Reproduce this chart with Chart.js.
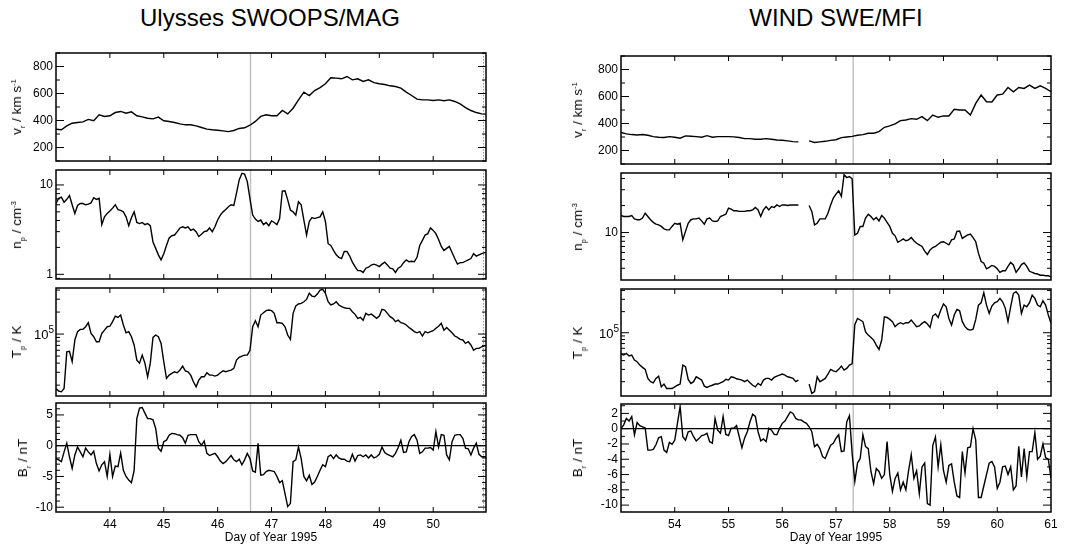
<!DOCTYPE html>
<html>
<head>
<meta charset="utf-8">
<script src="https://cdn.jsdelivr.net/npm/chart.js@4.4.1/dist/chart.umd.min.js"></script>
<style>
  body { margin: 0; background: #fff; font-family: "Liberation Sans", Arial, Helvetica, sans-serif; color: #000; }
  #page { position: relative; width: 1068px; height: 545px; overflow: hidden; }
  .title { position: absolute; top: 6px; font-size: 24px; line-height: 24px; white-space: nowrap; transform: translateX(-50%); }
  .ytitle { position: absolute; font-size: 13.5px; line-height: 14px; white-space: nowrap; transform: translate(-50%, -50%) rotate(-90deg); }
  .ytitle sub, .ytitle sup { font-size: 7.5px; line-height: 0; }
  .panel { position: absolute; }
</style>
</head>
<body>
<div id="page">
  <div class="title" style="left:270px">Ulysses SWOOPS/MAG</div>
  <div class="title" style="left:836px">WIND SWE/MFI</div>
</div>
<script>
// ---------------------------------------------------------------
// sample times (day of year 1995)
// ---------------------------------------------------------------
const dayGrid = (start, step, n) =>
  Array.from({ length: n }, (_, i) => +(start + i * step).toFixed(2));

const ULY_DAYS_V = dayGrid(43, 0.1, 81);
const ULY_DAYS   = dayGrid(43, 0.05, 161);
const WIND_DAYS_V = dayGrid(53, 0.1, 81);
const WIND_DAYS   = dayGrid(53, 0.05, 161);

const ULY_RANGE  = [43.0, 50.98];
const WIND_RANGE = [53.0, 61.0];
const ULY_DAY_TICKS  = [44, 45, 46, 47, 48, 49, 50];
const WIND_DAY_TICKS = [54, 55, 56, 57, 58, 59, 60, 61];
const ULY_EVENT  = 46.61;
const WIND_EVENT = 57.32;

// ---------------------------------------------------------------
// Ulysses SWOOPS / MAG
// ---------------------------------------------------------------
const ULY_V = [
  335,331,360,380,385,390,408,398,442,430,
  435,459,467,454,464,435,427,417,412,425,
  398,393,385,375,368,368,360,348,336,331,
  328,323,318,326,341,346,365,393,430,442,
  435,435,474,449,491,553,610,585,622,644,
  672,716,714,709,726,701,709,689,701,681,
  672,667,657,652,640,610,585,558,553,553,
  548,553,546,553,541,523,496,474,459,449,
  447
];

const ULY_N = [
  6.2,7.1,7.3,6.4,6.9,7.6,6.0,4.8,5.9,6.2, 6.2,6.0,6.1,6.3,7.2,6.9,7.1,3.6,4.4,4.8,
  5.1,5.5,6.0,5.3,5.2,5.0,4.4,3.5,4.3,5.0, 3.8,3.7,3.8,3.6,3.7,3.5,2.3,1.95,1.65,1.45,
  1.7,2.1,2.55,2.7,2.75,3.0,3.3,3.4,3.3,3.4, 3.1,3.2,3.0,2.65,2.8,3.0,3.05,3.3,3.0,3.4,
  4.05,4.6,5.0,5.3,5.7,6.0,5.9,8.1,11.4,13.5, 13.2,10.9,7.0,4.6,4.15,3.9,4.05,3.6,3.8,3.5,
  3.95,3.8,3.6,4.2,8.55,8.6,6.8,5.25,5.0,4.6, 6.5,6.0,4.05,2.75,3.9,4.3,4.2,4.3,4.4,5.0,
  3.9,2.2,2.1,1.85,1.65,1.55,1.5,1.8,1.8,1.6, 1.37,1.22,1.1,1.1,1.05,1.17,1.2,1.27,1.3,1.27,
  1.22,1.3,1.37,1.27,1.17,1.15,1.05,1.17,1.22,1.35, 1.45,1.38,1.4,1.38,1.55,2.1,2.4,2.75,2.85,3.3,
  3.1,2.85,2.45,2.05,1.85,1.95,2.05,1.75,1.5,1.3, 1.35,1.35,1.4,1.45,1.5,1.7,1.6,1.65,1.7,1.75,
  1.75
];

const ULY_T = [
  18000,16600,16200,18000,57000,58000,42000,83000,108000,116000, 116000,126000,143000,102000,92000,78500,78500,102000,113000,126000,
  128000,148000,176000,169000,182000,133000,104000,108000,92000,71000, 44000,40000,51500,40000,26000,40000,90000,97000,92000,74500,
  42000,24700,27400,28900,30500,29500,32100,36500,31400,30500, 27400,22200,19000,23400,26000,26000,29500,27400,27400,26600,
  27400,29500,31400,30500,31400,32100,33900,44000,48000,50000, 51500,51500,60000,126000,152000,126000,182000,196000,209000,213000,
  209000,192000,143000,143000,140000,126000,97000,84500,192000,242000, 258000,263000,277000,298000,361000,331000,325000,353000,400000,409000,
  361000,277000,250000,258000,277000,250000,237000,229000,225000,225000, 202000,186000,164000,169000,155000,192000,182000,188000,176000,164000,
  176000,218000,213000,192000,173000,164000,148000,155000,143000,140000, 133000,123000,116000,108000,104000,108000,94000,108000,104000,108000,
  111000,120000,128000,140000,113000,123000,113000,104000,94000,90000, 84500,83000,74500,78500,71000,60000,63600,63600,67000,69000,
  69000
];

const ULY_B = [
  -2.1,-2.3,-2.6,-1.0,0.4,-1.8,-3.7,-1.5,-0.2,-1.0, -1.8,-0.4,-1.0,-1.5,-0.9,-2.9,-4.1,-3.1,-2.6,-5.0,
  -1.4,-5.0,-3.3,-3.4,-1.2,-4.0,-5.0,-5.6,-6.0,-4.0, 4.4,6.1,6.2,5.3,4.4,4.4,4.2,2.8,-0.4,-0.9,
  0.65,0.9,1.7,2.0,1.95,1.8,1.7,1.3,0.4,1.7, 1.8,1.8,1.8,0.65,0.1,0.75,-1.25,-1.6,-1.4,-1.25,
  -1.8,-2.5,-2.9,-2.6,-2.1,-1.6,-2.3,-2.6,-2.2,-3.1, -2.3,-1.25,-2.1,-4.1,-4.3,0.4,-4.8,-4.7,-4.2,-4.0,
  -4.1,-4.2,-5.0,-6.0,-5.7,-7.8,-9.9,-9.4,-2.6,-2.3, -0.2,-2.1,-5.0,-5.7,-4.8,-6.3,-5.9,-5.0,-4.0,-3.1,
  -3.4,-1.8,-1.5,-2.1,-1.5,-2.0,-2.2,-2.2,-2.5,-2.6, -1.4,-2.5,-1.6,-1.5,-1.8,-1.5,-2.0,-1.5,-2.0,-1.8,
  -1.4,-0.2,-1.1,-1.4,-1.6,-1.8,-1.25,-0.3,0.9,-1.1, -1.0,0.65,1.5,1.8,0.9,-1.25,-1.0,-0.4,-0.4,-0.3,
  -0.7,2.3,-0.2,1.8,1.7,-1.5,-2.3,0.65,1.7,1.8, 1.8,1.2,-0.4,-0.5,-1.5,-0.4,0.4,-1.4,-1.8,-1.8,
  -1.8
];

// ---------------------------------------------------------------
// WIND SWE / MFI  (null = data gap)
// ---------------------------------------------------------------
const WIND_V = [
  333,323,318,315,318,313,303,298,296,303,
  298,291,308,306,303,298,310,298,303,303,
  303,301,296,288,288,283,283,288,283,278,
  276,271,266,264,null,271,259,264,268,275,
  280,295,300,305,313,318,328,328,340,372,
  382,397,421,426,436,431,451,421,463,446,
  456,456,505,500,500,463,549,611,561,559,
  611,618,667,635,667,660,684,660,679,660,
  635
];

const WIND_N = [
  15.5,15.1,15.1,15.1,15.5,14.2,13.9,13.9,14.5,16.4, 15.1,13.9,13.0,12.4,12.2,11.7,11.0,10.7,10.7,11.7,
  12.7,12.4,12.7,8.3,10.3,12.7,13.9,14.2,14.2,14.5, 13.5,12.4,14.2,14.5,13.5,13.3,13.5,15.1,15.5,16.0,
  18.7,18.2,17.5,17.5,17.2,17.2,17.2,17.5,17.5,17.9, 19.0,17.9,15.1,17.9,19.5,17.9,19.5,19.0,20.3,19.5,
  20.3,20.3,20.0,20.3,20.3,20.3,20.3,null,null,null, 20.0,17.2,12.2,12.7,14.2,14.2,14.2,16.4,20.3,24.2,
  26.8,29.2,25.3,44,41,42,39.7,9.4,9.8,11.7, 11.7,14.5,16.0,15.1,13.9,14.7,13.5,15.5,14.5,13.0,
  11.7,9.8,9.2,7.8,8.1,8.5,8.1,8.3,8.8,8.1, 7.6,7.3,7.0,6.2,5.7,6.4,6.8,7.0,7.4,7.8,
  7.9,7.6,7.3,8.3,8.5,10.3,10.4,8.6,9.0,9.4, 9.6,8.8,7.9,5.9,4.75,4.55,3.95,4.1,4.3,4.2,
  3.95,3.6,3.75,3.75,4.2,4.65,4.35,3.6,3.95,4.4, 4.6,4.2,3.7,3.6,3.5,3.45,3.35,3.35,3.3,3.3,
  3.2
];

const WIND_T = [
  49600,48000,50600,46500,48000,40700,38500,34500,32000,30000, 22300,20000,19300,22300,24000,16900,18500,16000,16000,16000,
  16900,17800,18500,34500,32700,21600,18900,20000,23500,22300, 21100,17300,16600,17300,17800,18500,18500,19300,20000,21600,
  21100,23500,23000,22000,21600,21100,20000,21100,19300,17800, 16900,18900,17800,21100,22300,22300,21100,23000,24000,24800,
  25700,24800,23500,23000,22300,20000,21100,null,null,null, 18500,13600,14400,23500,20000,21100,22300,25700,30000,28600,
  27700,30000,33400,29300,31000,34500,36000,130000,160000,152000, 144000,103000,92600,85800,78600,66700,57800,78600,169000,165000,
  155000,144000,122000,133000,139000,133000,139000,139000,152000,136000, 122000,125000,136000,144000,133000,119000,173000,185000,165000,211000,
  257000,235000,160000,129000,179000,215000,206000,144000,122000,112000, 109000,112000,155000,248000,268000,373000,248000,189000,240000,268000,
  277000,309000,277000,223000,144000,235000,365000,385000,345000,189000, 248000,235000,268000,345000,309000,248000,235000,286000,248000,179000,
  136000
];

const WIND_B = [
  0,0.5,1.35,1.0,1.6,-0.8,0.8,0.4,0.25,0.1, -2.8,-2.8,-2.7,-2.1,-1.2,-1.05,-2.8,-3.1,-1.8,-2.05,
  -1.5,0.7,2.9,-1.05,-1.5,-0.4,-0.3,-1.05,-1.6,-1.3, -0.9,-0.8,-0.6,-1.7,-1.9,1.35,-0.2,-0.6,1.6,-0.75,
  -0.9,0.05,0.05,0.4,-1.05,-2.5,-1.2,-0.4,0.9,1.9, 1.6,-0.4,-1.6,-1.35,-1.7,0.05,-0.2,-0.75,-0.8,0.05,
  0.7,1.0,1.6,2.2,2.0,1.35,1.15,1.15,0.9,0.7, 0.25,-0.4,-2.35,-2.05,-2.6,-3.65,-3.9,-3.0,-2.15,-1.9,
  -1.25,-0.8,-3.0,-2.9,0.9,1.7,-3.2,-6.9,-4.5,-3.9, -0.8,-2.35,-2.6,-5.6,-7.2,-5.2,-5.6,-6.5,-6.0,-1.7,
  -6.0,-8.2,-6.5,-5.8,-8.0,-7.0,-8.0,-5.5,-3.4,-6.5, -5.5,-8.5,-5.0,-4.5,-9.8,-10.0,-2.2,-1.1,-5.0,-2.1,
  -5.5,-7.0,-4.8,-4.6,-7.0,-8.8,-9.0,-3.0,-5.8,-2.5, -2.4,0,-1.5,-9.0,-9.0,-7.5,-6.0,-4.5,-4.3,-5.0,
  -7.8,-7.0,-5.0,-4.9,-6.0,-5.0,-8.0,-7.5,-2.3,-6.3, -2.6,-6.3,-3.0,-3.0,-0.5,-4.0,-3.6,-2.0,-3.8,-4.0,
  -6.5
];

// ---------------------------------------------------------------
// y tick marks
// ---------------------------------------------------------------
const V_MAJOR = [200, 400, 600, 800];
const V_MINOR = [100, 300, 500, 700, 900];
const ULY_N_MAJOR = [1, 10];
const ULY_N_MINOR = [0.9, 2, 3, 4, 5, 6, 7, 8, 9];
const WIND_N_MAJOR = [10];
const WIND_N_MINOR = [4, 5, 6, 7, 8, 9, 20, 30, 40];
const T_MAJOR = [1e5];
const T_MINOR = [2e4, 3e4, 4e4, 5e4, 6e4, 7e4, 8e4, 9e4, 2e5, 3e5, 4e5];
const ULY_B_MAJOR = [-10, -5, 0, 5];
const ULY_B_MINOR = [-9, -8, -7, -6, -4, -3, -2, -1, 1, 2, 3, 4, 6];
const WIND_B_MAJOR = [-10, -8, -6, -4, -2, 0, 2];
const WIND_B_MINOR = [-11, -9, -7, -5, -3, -1, 1, 3];

const V_TITLE = 'v<sub>r</sub> / km s<sup>-1</sup>';
const N_TITLE = 'n<sub>p</sub> / cm<sup>-3</sup>';
const T_TITLE = 'T<sub>p</sub> / K';
const B_TITLE = 'B<sub>r</sub> / nT';

const FONT = '"Liberation Sans", Arial, Helvetica, sans-serif';
Chart.defaults.font.family = FONT;
Chart.defaults.color = '#000';

const ULY = { range: ULY_RANGE, dayTicks: ULY_DAY_TICKS, event: ULY_EVENT, edgeDots: true };
const WIND = { range: WIND_RANGE, dayTicks: WIND_DAY_TICKS, event: WIND_EVENT, edgeDots: false };

const panels = [
  { ...ULY, box: [56, 53, 486, 161], days: ULY_DAYS_V, values: ULY_V, min: 100, max: 900,
    major: V_MAJOR, minor: V_MINOR, title: V_TITLE, titleX: 17 },
  { ...ULY, box: [56, 170, 486, 279], days: ULY_DAYS, values: ULY_N, log: true, min: 0.886, max: 14.7,
    major: ULY_N_MAJOR, minor: ULY_N_MINOR, title: N_TITLE, titleX: 17 },
  { ...ULY, box: [56, 288, 486, 396], days: ULY_DAYS, values: ULY_T, log: true, min: 14200, max: 427000,
    major: T_MAJOR, minor: T_MINOR, power: true, title: T_TITLE, titleX: 17 },
  { ...ULY, box: [56, 403, 486, 512], days: ULY_DAYS, values: ULY_B, min: -10.78, max: 6.94,
    major: ULY_B_MAJOR, minor: ULY_B_MINOR, zero: true, bottom: true, title: B_TITLE, titleX: 23 },

  { ...WIND, box: [621, 56, 1051, 164], days: WIND_DAYS_V, values: WIND_V, min: 100, max: 900,
    major: V_MAJOR, minor: V_MINOR, title: V_TITLE, titleX: 578 },
  { ...WIND, box: [621, 173, 1051, 280], days: WIND_DAYS, values: WIND_N, log: true, min: 2.96, max: 46.1,
    major: WIND_N_MAJOR, minor: WIND_N_MINOR, title: N_TITLE, titleX: 578 },
  { ...WIND, box: [621, 289, 1051, 396], days: WIND_DAYS, values: WIND_T, log: true, min: 12500, max: 421000,
    major: T_MAJOR, minor: T_MINOR, power: true, title: T_TITLE, titleX: 578 },
  { ...WIND, box: [621, 404, 1051, 512], days: WIND_DAYS, values: WIND_B, min: -10.9, max: 3.23,
    major: WIND_B_MAJOR, minor: WIND_B_MINOR, zero: true, bottom: true, title: B_TITLE, titleX: 578 }
];

const AXIS_W = 44, PAD_R = 14, PAD_V = 14, X_AXIS_H = 33;
const page = document.getElementById('page');

// box, inward ticks, event marker and zero line for one panel
function framePlugin(p) {
  return {
    id: 'frame',
    beforeDatasetsDraw(chart) {
      const { ctx, chartArea: a, scales: { x, y } } = chart;
      ctx.save();
      const ex = x.getPixelForValue(p.event);
      ctx.strokeStyle = '#c2c2c2';
      ctx.lineWidth = 1.5;
      ctx.beginPath();
      ctx.moveTo(ex, a.top);
      ctx.lineTo(ex, a.bottom);
      ctx.stroke();
      if (p.zero) {
        const zy = y.getPixelForValue(0);
        ctx.strokeStyle = '#000';
        ctx.lineWidth = 1.3;
        ctx.beginPath();
        ctx.moveTo(a.left, zy);
        ctx.lineTo(a.right, zy);
        ctx.stroke();
      }
      if (p.edgeDots) {
        ctx.strokeStyle = '#9a9a9a';
        ctx.lineWidth = 1;
        ctx.setLineDash([1.5, 1.5]);
        ctx.beginPath();
        ctx.moveTo(a.right - 2.5, a.top);
        ctx.lineTo(a.right - 2.5, a.bottom);
        ctx.stroke();
      }
      ctx.restore();
    },
    afterDraw(chart) {
      const { ctx, chartArea: a, scales: { x, y } } = chart;
      ctx.save();
      ctx.strokeStyle = '#000';
      ctx.lineWidth = 1;
      ctx.beginPath();
      p.dayTicks.forEach(d => {
        const px = x.getPixelForValue(d);
        if (px < a.left + 1 || px > a.right - 1) return;
        ctx.moveTo(px, a.bottom); ctx.lineTo(px, a.bottom - 5);
        ctx.moveTo(px, a.top); ctx.lineTo(px, a.top + 5);
      });
      const yTick = (v, len) => {
        const py = y.getPixelForValue(v);
        if (py < a.top - 0.5 || py > a.bottom + 0.5) return;
        ctx.moveTo(a.left, py); ctx.lineTo(a.left + len, py);
        ctx.moveTo(a.right, py); ctx.lineTo(a.right - len, py);
      };
      p.major.forEach(v => yTick(v, 8));
      p.minor.forEach(v => yTick(v, 4));
      ctx.stroke();
      ctx.lineWidth = 1.5;
      ctx.strokeRect(a.left, a.top, a.right - a.left, a.bottom - a.top);

      // 10^5 label with a raised exponent
      if (p.power) {
        const py = y.getPixelForValue(1e5);
        ctx.fillStyle = '#000';
        ctx.textAlign = 'right';
        ctx.textBaseline = 'alphabetic';
        ctx.font = '10px ' + FONT;
        ctx.fillText('5', a.left - 2, py - 1);
        const w = ctx.measureText('5').width;
        ctx.font = '13px ' + FONT;
        ctx.fillText('10', a.left - 2 - w, py + 5);
      }
      ctx.restore();
    }
  };
}

panels.forEach(p => {
  const [x0, y0, x1, y1] = p.box;
  const w = x1 - x0 + AXIS_W + PAD_R;
  const h = y1 - y0 + PAD_V + (p.bottom ? X_AXIS_H : PAD_V);

  const wrap = document.createElement('div');
  wrap.className = 'panel';
  wrap.style.left = (x0 - AXIS_W) + 'px';
  wrap.style.top = (y0 - PAD_V) + 'px';
  wrap.style.width = w + 'px';
  wrap.style.height = h + 'px';
  const canvas = document.createElement('canvas');
  canvas.width = w;
  canvas.height = h;
  wrap.appendChild(canvas);
  page.appendChild(wrap);

  const label = document.createElement('div');
  label.className = 'ytitle';
  label.style.left = p.titleX + 'px';
  label.style.top = ((y0 + y1) / 2) + 'px';
  label.innerHTML = p.title;
  page.appendChild(label);

  new Chart(canvas, {
    type: 'line',
    data: {
      datasets: [{
        data: p.days.map((d, i) => ({ x: d, y: p.values[i] })),
        borderColor: '#000',
        borderWidth: 1.4,
        pointRadius: 0,
        tension: 0,
        spanGaps: false,
        fill: false
      }]
    },
    options: {
      responsive: false,
      animation: false,
      events: [],
      layout: { padding: { left: 0, right: PAD_R, top: PAD_V, bottom: p.bottom ? 0 : PAD_V } },
      plugins: { legend: { display: false }, tooltip: { enabled: false } },
      scales: {
        x: {
          type: 'linear',
          min: p.range[0],
          max: p.range[1],
          display: !!p.bottom,
          grid: { display: false, drawTicks: false },
          border: { display: false },
          afterBuildTicks: s => { s.ticks = p.dayTicks.map(v => ({ value: v })); },
          afterFit: s => { if (p.bottom) s.height = X_AXIS_H; },
          ticks: { font: { size: 12 }, padding: 5, maxRotation: 0, autoSkip: false, callback: v => String(v) },
          title: { display: true, text: 'Day of Year 1995', font: { size: 12 }, padding: { top: 0, bottom: 0 } }
        },
        y: {
          type: p.log ? 'logarithmic' : 'linear',
          min: p.min,
          max: p.max,
          grid: { display: false, drawTicks: false },
          border: { display: false },
          afterBuildTicks: s => { s.ticks = p.major.map(v => ({ value: v })); },
          afterFit: s => { s.width = AXIS_W; },
          ticks: { font: { size: 12 }, padding: 3, autoSkip: false,
                   callback: v => (p.power ? '' : String(v)) }
        }
      }
    },
    plugins: [framePlugin(p)]
  });
});
</script>
</body>
</html>
